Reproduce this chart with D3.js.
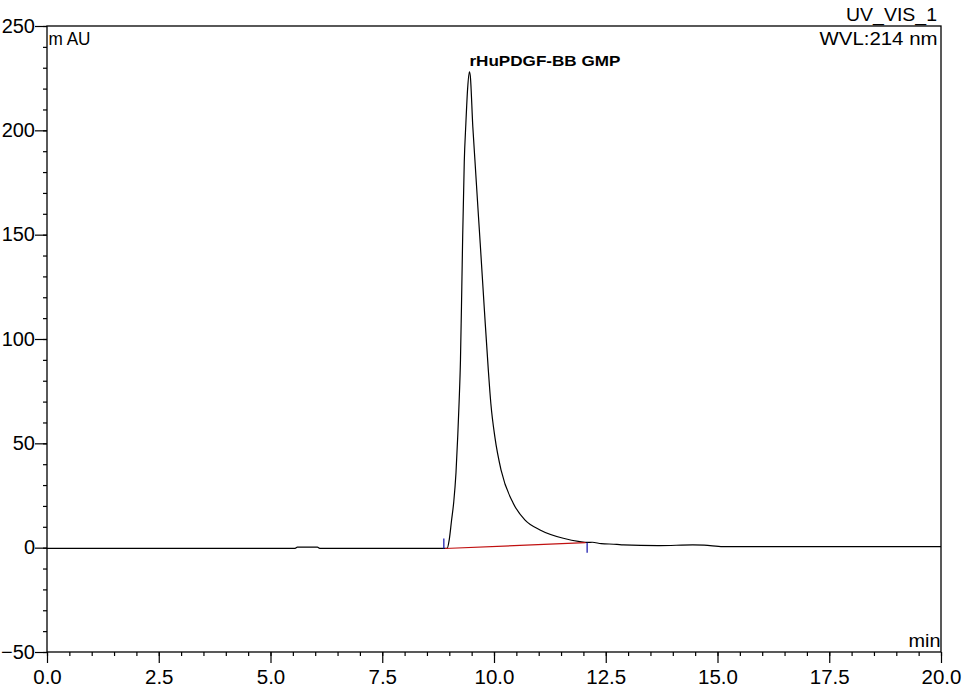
<!DOCTYPE html>
<html>
<head>
<meta charset="utf-8">
<script src="https://cdn.jsdelivr.net/npm/d3@7"></script>
<style>
  html, body { margin: 0; padding: 0; background: #fff; }
  svg { display: block; }
  text { font-family: "Liberation Sans", Arial, sans-serif; fill: #000; }
</style>
</head>
<body>
<svg id="chart" width="962" height="692"></svg>
<script>
// ---- data ----
const timeMin = [0, 5.55, 5.6, 6.05, 6.1, 8.5, 8.95, 9.0, 9.05, 9.10, 9.15, 9.19, 9.22, 9.25, 9.28, 9.30, 9.335, 9.37, 9.41, 9.45, 9.47, 9.526, 9.573, 9.653, 9.691, 9.785, 9.873, 9.93, 10.02, 10.16, 10.43, 10.69, 11.03, 11.55, 11.92, 12.1, 12.2, 12.4, 12.75, 12.89, 13.67, 13.7, 14.45, 14.7, 15.12, 20];
const signalMAU = [-0.3, -0.3, 0.3, 0.3, -0.3, -0.3, -0.3, 4, 13, 22, 36, 54, 70, 90, 125, 150, 185, 203, 220, 228, 226, 201.7, 185.8, 158.6, 146, 113.9, 85.1, 69, 53, 37, 21.3, 13.3, 8.5, 4.5, 2.9, 2.5, 2.6, 1.9, 1.6, 1.3, 1.0, 1.0, 1.3, 1.2, 0.5, 0.5];

const peakName = ["rHuPDGF-BB GMP"];
const peakApex = [9.45, 228];
const peakStartEnd = [[8.9, -0.4], [12.05, 2.4]];

const xMajorTicks = [0, 2.5, 5, 7.5, 10, 12.5, 15, 17.5, 20];
const yMajorTicks = [-50, 0, 50, 100, 150, 200, 250];
const xDomain = [0, 20];
const yDomain = [-50, 250];

const yUnit = "m AU";
const xUnit = "min";
const channel = ["UV_VIS_1", "WVL:214 nm"];

// ---- layout ----
const L = 47, R = 941, T = 26, B = 652;
const svg = d3.select("#chart");
const x = d3.scaleLinear().domain(xDomain).range([L, R]);
const y = d3.scaleLinear().domain(yDomain).range([B, T]);

const xMinor = d3.range(0, 20.001, 0.5);
const yMinor = d3.range(-50, 250.001, 10);

// minor ticks
svg.append("g").attr("transform", `translate(0,${B})`)
  .call(d3.axisBottom(x).tickValues(xMinor).tickSize(4).tickFormat(""))
  .call(g => g.select(".domain").remove())
  .call(g => g.selectAll("line").attr("stroke", "#000").attr("stroke-width", 1.2));
svg.append("g").attr("transform", `translate(${L},0)`)
  .call(d3.axisLeft(y).tickValues(yMinor).tickSize(4).tickFormat(""))
  .call(g => g.select(".domain").remove())
  .call(g => g.selectAll("line").attr("stroke", "#000").attr("stroke-width", 1.2));

// major ticks + labels
svg.append("g").attr("transform", `translate(0,${B})`)
  .call(d3.axisBottom(x).tickValues(xMajorTicks).tickSize(11).tickFormat(d3.format(".1f")))
  .call(g => g.select(".domain").remove())
  .call(g => g.selectAll("line").attr("stroke", "#000").attr("stroke-width", 1.2))
  .call(g => g.selectAll("text").attr("y", 31.5).attr("dy", null)
     .style("font-size", "20.5px").style("font-family", "'Liberation Sans', Arial, sans-serif").attr("fill", "#000"));
svg.append("g").attr("transform", `translate(${L},0)`)
  .call(d3.axisLeft(y).tickValues(yMajorTicks).tickSize(12).tickPadding(0).tickFormat(d3.format("d")))
  .call(g => g.select(".domain").remove())
  .call(g => g.selectAll("line").attr("stroke", "#000").attr("stroke-width", 1.2))
  .call(g => g.selectAll("text").attr("dy", "0.3em")
     .style("font-size", "20px").style("font-family", "'Liberation Sans', Arial, sans-serif").attr("fill", "#000"));

// frame
svg.append("rect").attr("x", L).attr("y", T).attr("width", R - L).attr("height", B - T)
  .attr("fill", "none").attr("stroke", "#000").attr("stroke-width", 1.3);

// chromatogram trace
const pts = timeMin.map((t, i) => [t, signalMAU[i]]);
const line = d3.line().x(d => x(d[0])).y(d => y(d[1])).curve(d3.curveMonotoneX);
svg.append("path").datum(pts).attr("d", line)
  .attr("fill", "none").attr("stroke", "#000").attr("stroke-width", 1.2);

// integration baseline
svg.append("line")
  .attr("x1", x(peakStartEnd[0][0])).attr("y1", y(peakStartEnd[0][1]))
  .attr("x2", x(peakStartEnd[1][0])).attr("y2", y(peakStartEnd[1][1]))
  .attr("stroke", "#c01010").attr("stroke-width", 1.2);
// peak delimiters
svg.append("line")
  .attr("x1", x(peakStartEnd[0][0]) - 1).attr("x2", x(peakStartEnd[0][0]) - 1)
  .attr("y1", y(peakStartEnd[0][1])).attr("y2", y(peakStartEnd[0][1]) - 10)
  .attr("stroke", "#2020b0").attr("stroke-width", 1.3);
svg.append("line")
  .attr("x1", x(peakStartEnd[1][0]) + 1.5).attr("x2", x(peakStartEnd[1][0]) + 1.5)
  .attr("y1", y(peakStartEnd[1][1])).attr("y2", y(peakStartEnd[1][1]) + 10)
  .attr("stroke", "#2020b0").attr("stroke-width", 1.3);

// peak label
svg.append("text").attr("x", x(peakApex[0])).attr("y", 66)
  .attr("font-weight", "bold").attr("font-size", 15.5)
  .attr("textLength", 151).attr("lengthAdjust", "spacingAndGlyphs")
  .text(peakName[0]);

// unit labels
svg.append("text").attr("x", 48.5).attr("y", 44.5).attr("font-size", 17.5)
  .attr("textLength", 42).attr("lengthAdjust", "spacingAndGlyphs").text(yUnit);
svg.append("text").attr("x", 908.5).attr("y", 646.7).attr("font-size", 18.5)
  .attr("textLength", 32).attr("lengthAdjust", "spacingAndGlyphs").text(xUnit);

// channel info
svg.append("text").attr("x", 846).attr("y", 20.5).attr("font-size", 17.5)
  .attr("textLength", 91).attr("lengthAdjust", "spacingAndGlyphs").text(channel[0]);
svg.append("text").attr("x", 819.5).attr("y", 45).attr("font-size", 18)
  .attr("textLength", 118).attr("lengthAdjust", "spacingAndGlyphs").text(channel[1]);
</script>
</body>
</html>
